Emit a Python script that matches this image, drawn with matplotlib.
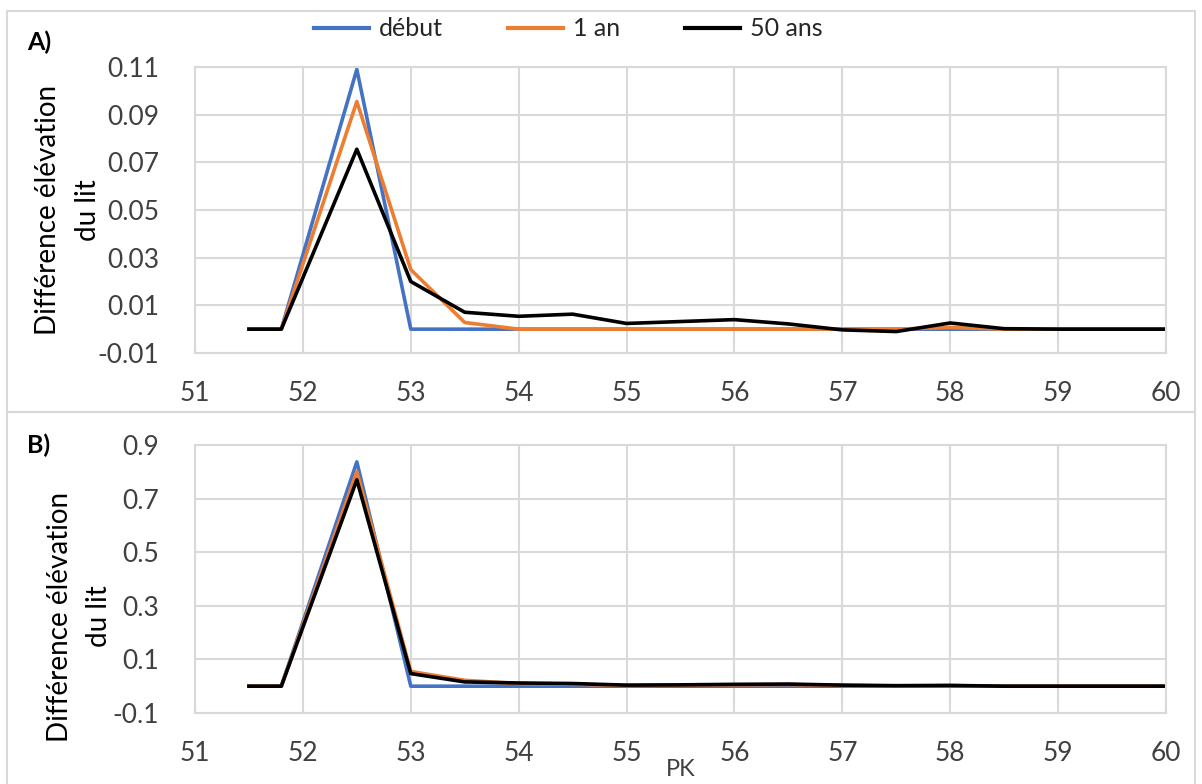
import matplotlib
matplotlib.use("Agg")
import matplotlib.pyplot as plt
from matplotlib.patches import Rectangle
from matplotlib.lines import Line2D

plt.rcParams['font.family'] = ['Lato', 'DejaVu Sans']

pk = [51.5, 51.8, 52.5, 53, 53.5, 54, 54.5, 55, 55.5, 56, 56.5, 57, 57.5, 58, 58.5, 59, 59.5, 60]

# panel A
a_debut = [0, 0, 0.109, 0, 0, 0, 0, 0, 0, 0, 0, 0, 0, 0, 0, 0, 0, 0]
a_1an = [0, 0, 0.0955, 0.025, 0.0028, 0, 0, 0, 0, 0, 0, 0, 0, 0.0007, 0, 0, 0, 0]
a_50ans = [0, 0, 0.0755, 0.0200, 0.0071, 0.0054, 0.0063, 0.0024, 0.0032, 0.0040,
           0.0022, -0.0003, -0.0010, 0.0026, 0.0002, 0, 0, 0]

# panel B
b_debut = [0, 0, 0.837, 0, 0, 0, 0, 0, 0, 0, 0, 0, 0, 0, 0, 0, 0, 0]
b_1an = [0, 0, 0.80, 0.055, 0.022, 0.010, 0.007, 0.003, 0.004, 0.005, 0.006,
         0.003, 0.001, 0.002, 0, 0, 0, 0]
b_50ans = [0, 0, 0.77, 0.047, 0.016, 0.012, 0.010, 0.004, 0.005, 0.007, 0.008,
           0.004, 0.002, 0.003, 0, 0, 0, 0]

labels = ['début', '1 an', '50 ans']
colors = ['#4472C4', '#ED7D31', '#000000']

a_ticks = [-0.01, 0.01, 0.03, 0.05, 0.07, 0.09, 0.11]
b_ticks = [-0.1, 0.1, 0.3, 0.5, 0.7, 0.9]
x_ticks = list(range(51, 61))

W, H = 1202, 784
fig = plt.figure(figsize=(W / 100, H / 100), dpi=100)

grid_c = '#d9d9d9'
tick_c = '#404040'

# chart frames
fig.add_artist(Rectangle((7 / W, 1 - 412 / H), 1188 / W, 401 / H, transform=fig.transFigure,
                         fill=False, edgecolor=grid_c, lw=1.5))
fig.add_artist(Rectangle((7 / W, -0.01), 1188 / W, 1 - 412 / H + 0.01, transform=fig.transFigure,
                         fill=False, edgecolor=grid_c, lw=1.5))

ax_a = fig.add_axes([195 / W, 1 - 353 / H, 971 / W, 286 / H])
ax_b = fig.add_axes([195 / W, 1 - 713 / H, 971 / W, 268 / H])


def style(ax, ticks, fmt):
    ax.set_xlim(51, 60)
    ax.set_ylim(ticks[0], ticks[-1])
    ax.set_xticks(x_ticks)
    ax.set_yticks(ticks)
    ax.set_yticklabels([fmt % t for t in ticks])
    ax.grid(True, color=grid_c, lw=1.5)
    ax.set_axisbelow(True)
    for s in ax.spines.values():
        s.set_color(grid_c)
        s.set_linewidth(1.5)
    ax.tick_params(length=0, labelsize=19, colors=tick_c, pad=26)
    ax.tick_params(axis='x', pad=20)
    ax.set_ylabel('Différence élévation\ndu lit', fontsize=20, linespacing=1.65)


for ys, c in zip([a_debut, a_1an, a_50ans], colors):
    ax_a.plot(pk, ys, color=c, lw=2.6)
for ys, c in zip([b_debut, b_1an, b_50ans], colors):
    ax_b.plot(pk, ys, color=c, lw=2.6)

style(ax_a, a_ticks, '%.2f')
style(ax_b, b_ticks, '%.1f')
ax_a.yaxis.set_label_coords(-0.097, 0.5)
ax_b.yaxis.set_label_coords(-0.085, 0.36)
ax_b.set_xlabel('PK', fontsize=17, color=tick_c, labelpad=-5)

fig.text(27 / W, 1 - 42 / H, 'A)', fontsize=18, fontweight='bold', va='center')
fig.text(27 / W, 1 - 445 / H, 'B)', fontsize=18, fontweight='bold', va='center')

handles = [Line2D([], [], color=c, lw=3) for c in colors]
leg = fig.legend(handles, labels, loc='center', bbox_to_anchor=(568 / W, 1 - 29 / H),
                 ncol=3, frameon=False, fontsize=18, handlelength=2.2,
                 handletextpad=0.4, columnspacing=2.6)
for t in leg.get_texts():
    t.set_color('#262626')

fig.savefig('out.png', dpi=100)
